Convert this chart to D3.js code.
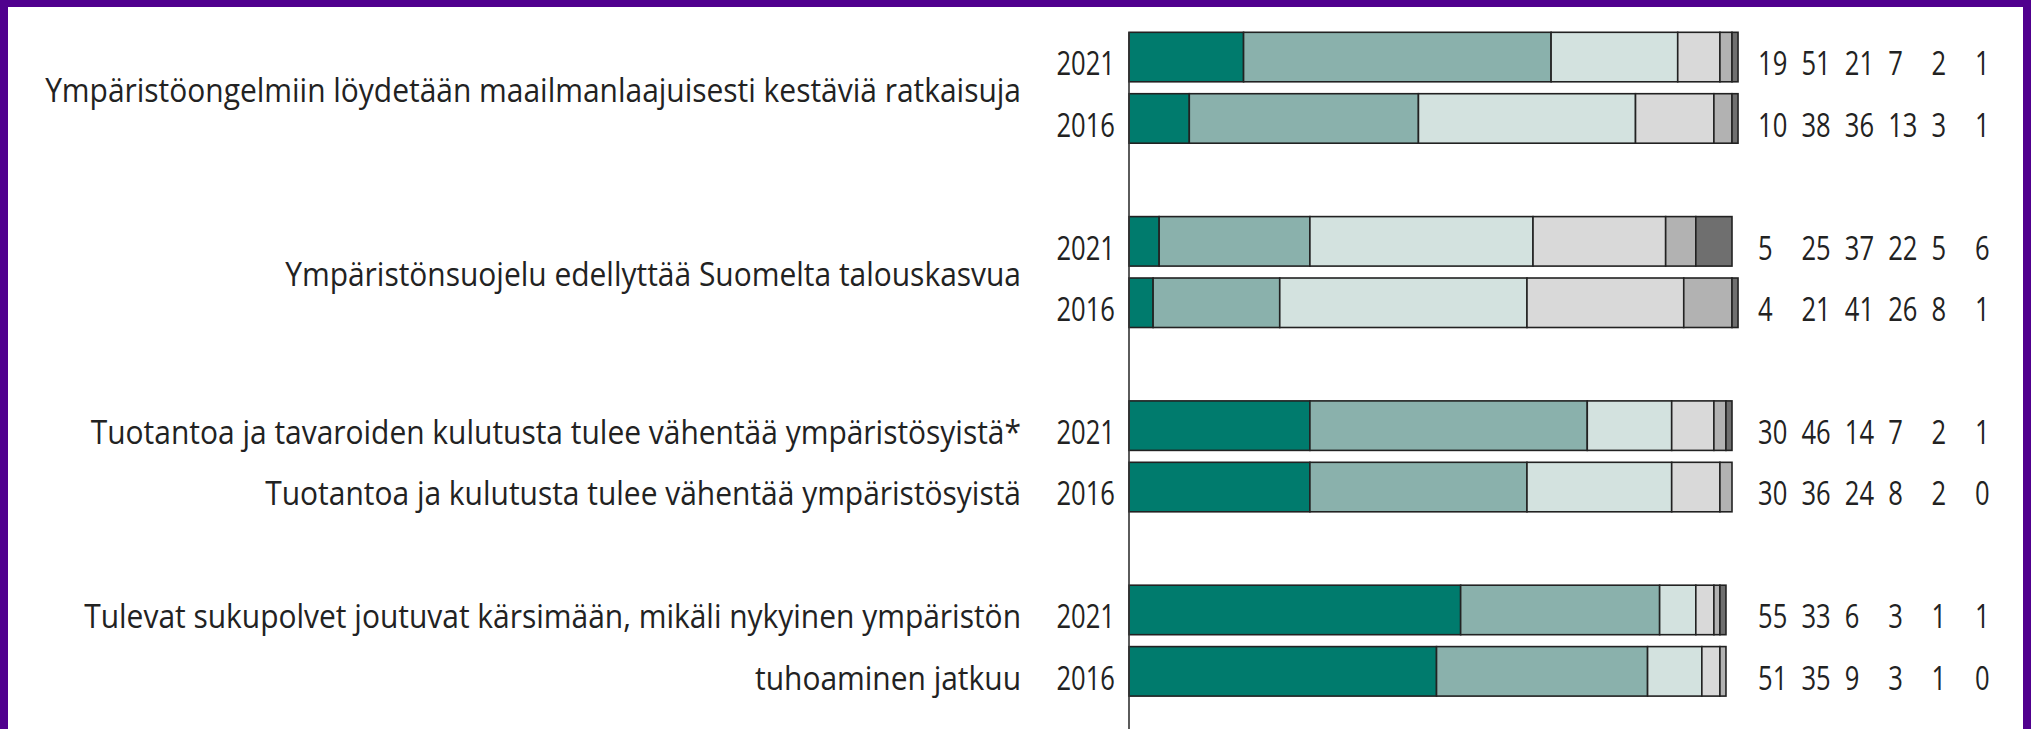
<!DOCTYPE html>
<html>
<head>
<meta charset="utf-8">
<script src="https://cdn.jsdelivr.net/npm/d3@7"></script>
<style>
	body { margin: 0; background: #fff; }
	text { font-family: "Open Sans", "Noto Sans", sans-serif; fill: #222; }
</style>
</head>
<body>
<div class="chart"></div>
<script>
//Canvas size
const w = 2031;
const h = 729;

// Statements, one or two text lines each
const labels = [
	["Ympäristöongelmiin löydetään maailmanlaajuisesti kestäviä ratkaisuja"],
	["Ympäristönsuojelu edellyttää Suomelta talouskasvua"],
	["Tuotantoa ja tavaroiden kulutusta tulee vähentää ympäristösyistä*", "Tuotantoa ja kulutusta tulee vähentää ympäristösyistä"],
	["Tulevat sukupolvet joutuvat kärsimään, mikäli nykyinen ympäristön", "tuhoaminen jatkuu"]
];
const years = ["2021", "2016"];

// Shares (%) of the six answer classes, per statement and year
const values2021 = [
	[19, 51, 21, 7, 2, 1],
	[5, 25, 37, 22, 5, 6],
	[30, 46, 14, 7, 2, 1],
	[55, 33, 6, 3, 1, 1]
];
const values2016 = [
	[10, 38, 36, 13, 3, 1],
	[4, 21, 41, 26, 8, 1],
	[30, 36, 24, 8, 2, 0],
	[51, 35, 9, 3, 1, 0]
];
const keys = ["c0", "c1", "c2", "c3", "c4", "c5"];
const colors = ["#007b6d", "#8ab1ac", "#d3e2df", "#d9d9d9", "#b2b2b2", "#6f6f6f"];

// Text is squeezed horizontally like the original
const sxNum = 0.8;
const sxLabel = 0.936;

// Build rows for the stack
const rows = [];
labels.forEach((l, i) => {
	[values2021[i], values2016[i]].forEach((vals, j) => {
		const row = {group: i, year: years[j]};
		keys.forEach((k, n) => row[k] = vals[n]);
		row.vals = vals;
		rows.push(row);
	});
});

const svg = d3.select(".chart").append("svg")
	.attr("width", w)
	.attr("height", h)
	.style("display", "block");

svg.append("rect").attr("width", w).attr("height", h).attr("fill", "#fff");

// Scales
const x = d3.scaleLinear()
	.domain([0, 100])
	.range([1129, 1732]);

const yGroup = d3.scaleBand()
	.domain(d3.range(labels.length))
	.range([32.3, 32.3 + 4 * 184.3]);

const yYear = d3.scaleBand()
	.domain(years)
	.range([0, 110.9])
	.paddingInner(0.194);

const yRow = (d) => yGroup(d.group) + yYear(d.year);
const base = yYear.bandwidth() * 0.87;

const col = d3.scaleLinear()
	.domain([0, 5])
	.range([1758, 1975]);

// Stacked bars
const series = d3.stack().keys(keys)(rows);

svg.append("g")
	.selectAll("g")
	.data(series)
	.enter()
	.append("g")
	.attr("fill", (d, i) => colors[i])
	.selectAll("rect")
	.data(d => d)
	.enter()
	.append("rect")
	.attr("x", d => x(d[0]))
	.attr("y", d => yRow(d.data))
	.attr("width", d => x(d[1]) - x(d[0]))
	.attr("height", yYear.bandwidth())
	.attr("stroke", "#222")
	.attr("stroke-width", 1.6);

// Vertical axis line
svg.append("line")
	.attr("x1", x(0))
	.attr("x2", x(0))
	.attr("y1", yGroup(0))
	.attr("y2", h)
	.attr("stroke", "#333")
	.attr("stroke-width", 1.6);

// Year labels
svg.append("g")
	.selectAll("text")
	.data(rows)
	.enter()
	.append("text")
	.attr("text-anchor", "end")
	.attr("font-size", 32)
	.attr("transform", d => `translate(1115,${yRow(d) + base}) scale(${sxNum},1)`)
	.text(d => d.year);

// Value columns
rows.forEach((d) => {
	svg.append("g")
		.selectAll("text")
		.data(d.vals)
		.enter()
		.append("text")
		.attr("font-size", 32)
		.attr("transform", (v, i) => `translate(${col(i)},${yRow(d) + base}) scale(${sxNum},1)`)
		.text(v => v);
});

// Statement labels
labels.forEach((lines, i) => {
	const ys = years.map(yr => yGroup(i) + yYear(yr) + base);
	const pos = lines.length === 1 ? [d3.mean(ys) - 4] : ys;
	svg.append("g")
		.selectAll("text")
		.data(lines)
		.enter()
		.append("text")
		.attr("text-anchor", "end")
		.attr("font-size", 32)
		.attr("transform", (t, j) => `translate(1021,${pos[j]}) scale(${sxLabel},1)`)
		.text(t => t);
});

// Purple frame
svg.append("rect").attr("x", 0).attr("y", 0).attr("width", w).attr("height", 7).attr("fill", "#50008e");
svg.append("rect").attr("x", 0).attr("y", 0).attr("width", 8).attr("height", h).attr("fill", "#50008e");
svg.append("rect").attr("x", 2023).attr("y", 0).attr("width", 8).attr("height", h).attr("fill", "#50008e");
</script>
</body>
</html>
